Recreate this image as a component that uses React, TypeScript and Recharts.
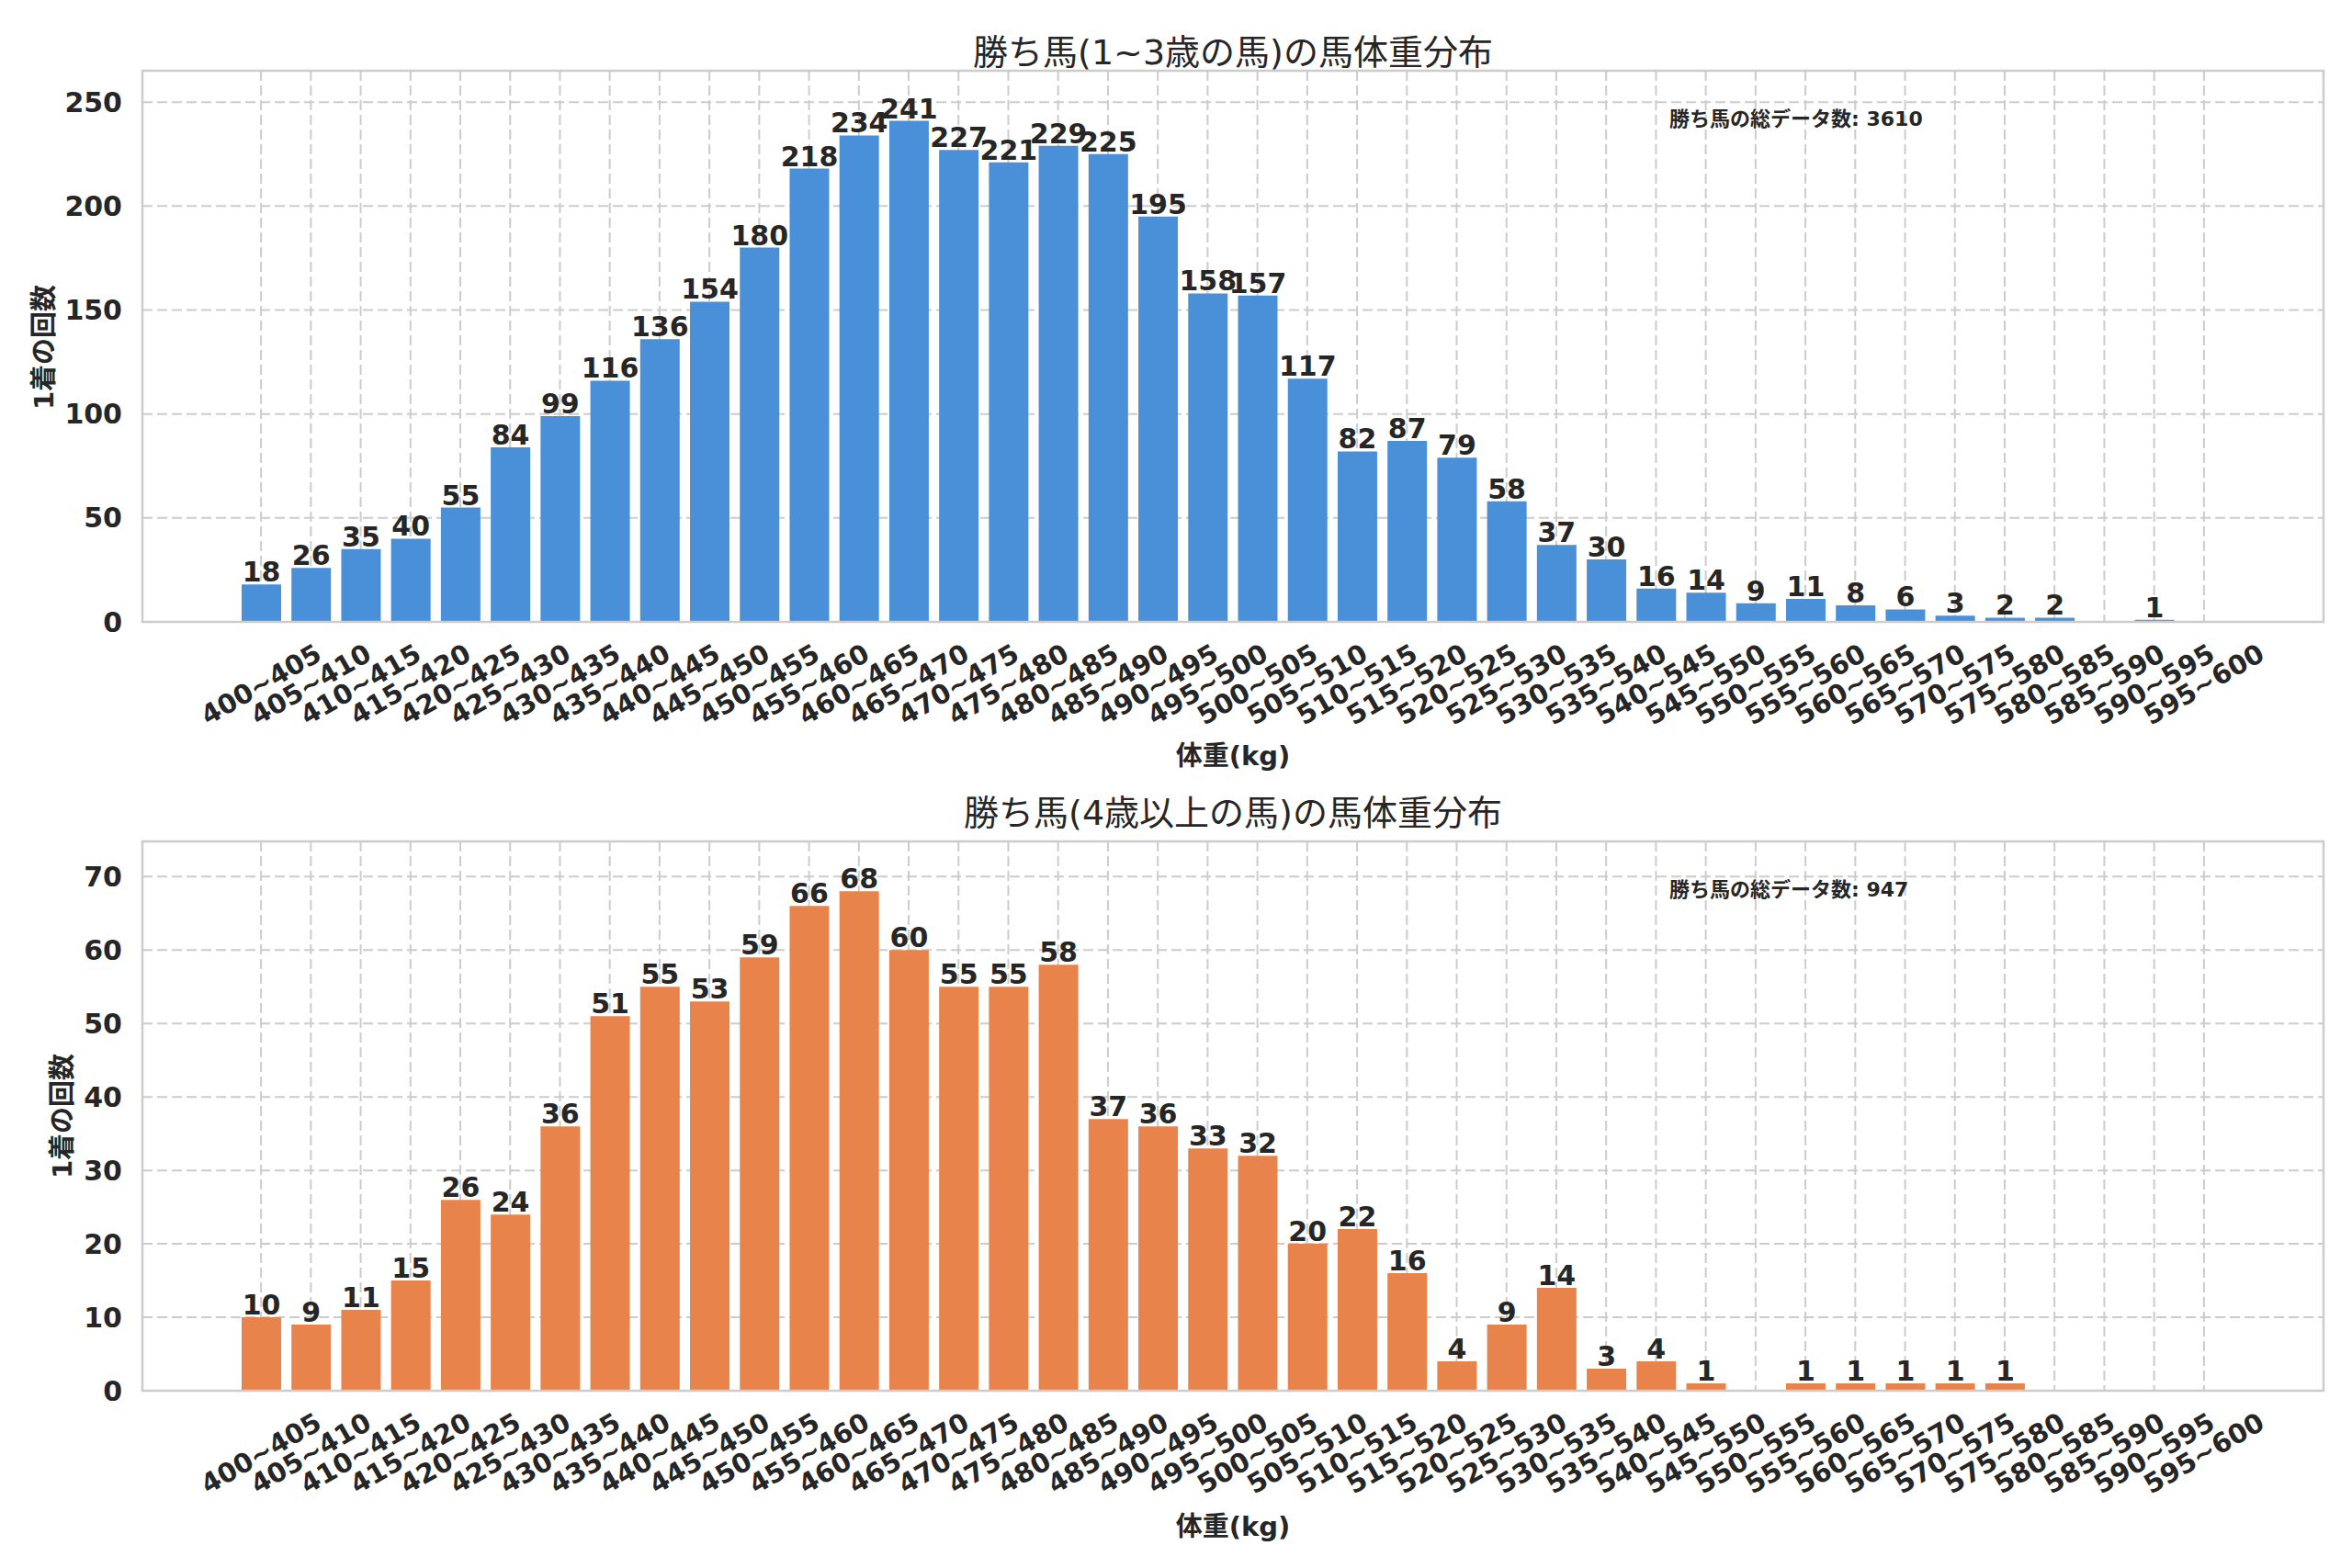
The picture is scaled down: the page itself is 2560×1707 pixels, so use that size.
import React from 'react';
import { BarChart, Bar, XAxis, YAxis, CartesianGrid, LabelList } from 'recharts';

// 5kg bins, 400~405 .. 595~600
const RANGES = [
  '400~405', '405~410', '410~415', '415~420', '420~425', '425~430', '430~435', '435~440',
  '440~445', '445~450', '450~455', '455~460', '460~465', '465~470', '470~475', '475~480',
  '480~485', '485~490', '490~495', '495~500', '500~505', '505~510', '510~515', '515~520',
  '520~525', '525~530', '530~535', '535~540', '540~545', '545~550', '550~555', '555~560',
  '560~565', '565~570', '570~575', '575~580', '580~585', '585~590', '590~595', '595~600',
];

const YOUNG_COUNTS = [
  18, 26, 35, 40, 55, 84, 99, 116, 136, 154, 180, 218, 234, 241, 227, 221,
  229, 225, 195, 158, 157, 117, 82, 87, 79, 58, 37, 30, 16, 14, 9, 11,
  8, 6, 3, 2, 2, 0, 1, 0,
];

const OLD_COUNTS = [
  10, 9, 11, 15, 26, 24, 36, 51, 55, 53, 59, 66, 68, 60, 55, 55,
  58, 37, 36, 33, 32, 20, 22, 16, 4, 9, 14, 3, 4, 1, 0, 1,
  1, 1, 1, 1, 0, 0, 0, 0,
];

const YOUNG_TICKS = [0, 50, 100, 150, 200, 250];
const OLD_TICKS = [0, 10, 20, 30, 40, 50, 60, 70];

const TITLE_YOUNG = '勝ち馬(1~3歳の馬)の馬体重分布';
const TITLE_OLD = '勝ち馬(4歳以上の馬)の馬体重分布';
const X_LABEL = '体重(kg)';
const Y_LABEL = '1着の回数';
const TOTAL_LABEL = '勝ち馬の総データ数';

const FONT = '"DejaVu Sans", "Noto Sans CJK JP", sans-serif';
const INK = '#262626';
const GRID = '#cccccc';

const W = 2560;
const PLOT_L = 155;
const PLOT_R = 2529;

const total = (a: number[]) => a.reduce((s, v) => s + v, 0);

function RangeTick(props: any) {
  const { x, y, payload } = props;
  return (
    <text
      transform={`translate(${x},${y + 68}) rotate(-30)`}
      textAnchor="middle"
      dominantBaseline="central"
      fontFamily={FONT}
      fontSize={29}
      fontWeight="bold"
      fill={INK}
    >
      {payload.value}
    </text>
  );
}

function Panel({
  counts, ticks, color, height, top, bottom,
}: {
  counts: number[]; ticks: number[]; color: string; height: number; top: number; bottom: number;
}) {
  const data = RANGES.map((range, i) => ({ range, count: counts[i] }));
  const yMax = Math.max(...counts) * 1.1;
  return (
    <BarChart
      width={W}
      height={height}
      data={data}
      margin={{ top, right: W - PLOT_R, bottom, left: PLOT_L - 100 }}
      barSize={43}
    >
      <CartesianGrid stroke={GRID} strokeWidth={2} strokeDasharray="11 5" />
      <XAxis
        dataKey="range"
        interval={0}
        tick={<RangeTick />}
        tickLine={false}
        axisLine={false}
        tickSize={0}
        tickMargin={0}
        height={150}
        padding={{ left: 102, right: 103 }}
      />
      <YAxis
        domain={[0, yMax]}
        ticks={ticks}
        allowDataOverflow
        tickLine={false}
        axisLine={false}
        tickSize={0}
        tickMargin={22}
        width={100}
        tick={{ fontSize: 30, fontWeight: 'bold', fill: INK, fontFamily: FONT }}
      />
      <Bar dataKey="count" fill={color} isAnimationActive={false}>
        <LabelList
          dataKey="count"
          position="top"
          offset={3}
          formatter={(v: any) => (v === 0 ? '' : v)}
          style={{ fontSize: 30, fontWeight: 'bold', fill: INK, fontFamily: FONT }}
        />
      </Bar>
    </BarChart>
  );
}

export default function App() {
  const cx = (PLOT_L + PLOT_R) / 2;
  return (
    <div style={{ position: 'absolute', left: 0, top: 0, width: W, height: 1707, background: '#fff' }}>
      <div style={{ position: 'absolute', left: 0, top: 0 }}>
        <Panel counts={YOUNG_COUNTS} ticks={YOUNG_TICKS} color="#4a90d9" height={853} top={77} bottom={26} />
      </div>
      <div style={{ position: 'absolute', left: 0, top: 853 }}>
        <Panel counts={OLD_COUNTS} ticks={OLD_TICKS} color="#e8844b" height={854} top={63} bottom={43} />
      </div>
      <svg
        width={W}
        height={1707}
        style={{ position: 'absolute', left: 0, top: 0, pointerEvents: 'none' }}
        fontFamily={FONT}
        fill={INK}
      >
        {/* frames */}
        <rect x={PLOT_L} y={77} width={PLOT_R - PLOT_L} height={600} fill="none" stroke={GRID} strokeWidth={2.5} />
        <rect x={PLOT_L} y={916} width={PLOT_R - PLOT_L} height={598} fill="none" stroke={GRID} strokeWidth={2.5} />

        {/* titles */}
        <text x={cx} y={70} textAnchor="middle" fontSize={38}>{TITLE_YOUNG}</text>
        <text x={cx} y={898} textAnchor="middle" fontSize={38}>{TITLE_OLD}</text>

        {/* x labels */}
        <text x={cx} y={833} textAnchor="middle" fontSize={29} fontWeight="bold">{X_LABEL}</text>
        <text x={cx} y={1672} textAnchor="middle" fontSize={29} fontWeight="bold">{X_LABEL}</text>

        {/* y labels */}
        <text transform="translate(58,378) rotate(-90)" textAnchor="middle" fontSize={29} fontWeight="bold">{Y_LABEL}</text>
        <text transform="translate(78,1215) rotate(-90)" textAnchor="middle" fontSize={29} fontWeight="bold">{Y_LABEL}</text>

        {/* totals */}
        <text x={1817} y={137} fontSize={22} fontWeight="bold">{`${TOTAL_LABEL}: ${total(YOUNG_COUNTS)}`}</text>
        <text x={1817} y={976} fontSize={22} fontWeight="bold">{`${TOTAL_LABEL}: ${total(OLD_COUNTS)}`}</text>
      </svg>
    </div>
  );
}
